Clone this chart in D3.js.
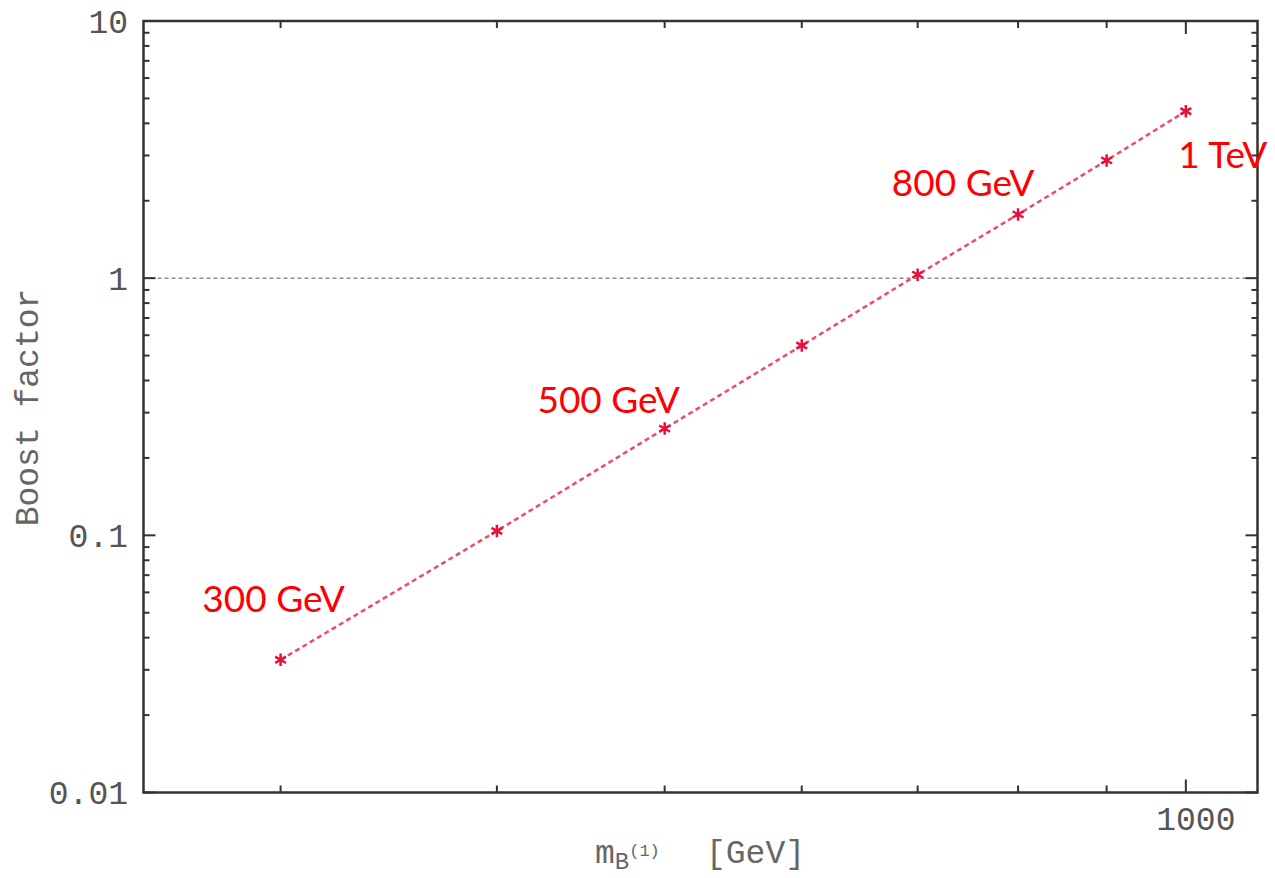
<!DOCTYPE html>
<html><head><meta charset="utf-8">
<script src="https://cdn.jsdelivr.net/npm/d3@7"></script>
<style>body{margin:0;background:#fff}</style>
</head><body>
<svg id="chart" width="1275" height="878"></svg>
<script>
const masses = [300, 400, 500, 600, 700, 800, 900, 1000];
const boost = [0.0328, 0.104, 0.26, 0.547, 1.032, 1.77, 2.87, 4.46];
const labelMasses = [300, 500, 800, 1000];
const labelTexts = ["300 GeV", "500 GeV", "800 GeV", "1 TeV"];
const yTickValues = [0.01, 0.1, 1, 10];
const yTickLabels = ["0.01", "0.1", "1", "10"];
const xTickValues = [1000];
const xTickLabels = ["1000"];
const referenceLevel = 1;

const svg = d3.select("#chart");
const L = 143.5, R = 1257.5, T = 21, B = 792.5;
const x = d3.scaleLog().domain([250, 1100]).range([L, R]);
const y = d3.scaleLog().domain([0.01, 10]).range([B, T]);
const frameColor = "#333";
const mono = "'Liberation Mono', 'DejaVu Sans Mono', monospace";

// minor ticks
const yMinor = [];
for (let d = -2; d < 1; d++) for (let k = 2; k <= 9; k++) yMinor.push(k * Math.pow(10, d));
const xMinor = [300, 400, 500, 600, 700, 800, 900];

const g = svg.append("g");
// reference line
g.append("line").attr("x1", L).attr("x2", R).attr("y1", y(referenceLevel)).attr("y2", y(referenceLevel))
  .attr("stroke", "#555").attr("stroke-width", 1).attr("stroke-dasharray", "4,3");

// ticks y
[[L, 1], [R, -1]].forEach(([px, dir]) => {
  g.selectAll(null).data(yMinor).enter().append("line")
    .attr("x1", px).attr("x2", px + dir * 6).attr("y1", d => y(d)).attr("y2", d => y(d))
    .attr("stroke", frameColor).attr("stroke-width", 2);
  g.selectAll(null).data(yTickValues).enter().append("line")
    .attr("x1", px).attr("x2", px + dir * 12).attr("y1", d => y(d)).attr("y2", d => y(d))
    .attr("stroke", frameColor).attr("stroke-width", 2);
});
[[B, -1], [T, 1]].forEach(([py, dir]) => {
  g.selectAll(null).data(xMinor).enter().append("line")
    .attr("x1", d => x(d)).attr("x2", d => x(d)).attr("y1", py).attr("y2", py + dir * 7)
    .attr("stroke", frameColor).attr("stroke-width", 2);
  g.selectAll(null).data(xTickValues).enter().append("line")
    .attr("x1", d => x(d)).attr("x2", d => x(d)).attr("y1", py).attr("y2", py + dir * 13)
    .attr("stroke", frameColor).attr("stroke-width", 2);
});

// frame
g.append("rect").attr("x", L).attr("y", T).attr("width", R - L).attr("height", B - T)
  .attr("fill", "none").attr("stroke", frameColor).attr("stroke-width", 2.5);

// tick labels
g.selectAll(null).data(yTickValues).enter().append("text")
  .attr("x", 128).attr("y", d => y(d)).attr("dy", "0.36em")
  .attr("text-anchor", "end").attr("font-family", mono).attr("font-size", 33).attr("fill", "#555")
  .text((d, i) => yTickLabels[i]);
g.selectAll(null).data(xTickValues).enter().append("text")
  .attr("x", d => x(d) + 10).attr("y", 830)
  .attr("text-anchor", "middle").attr("font-family", mono).attr("font-size", 33).attr("fill", "#555")
  .text((d, i) => xTickLabels[i]);

// axis titles
g.append("text").attr("transform", "translate(38," + ((282 + 533) / 2) + ") rotate(-90)")
  .attr("text-anchor", "middle").attr("font-family", mono).attr("font-size", 33).attr("fill", "#666")
  .text("Boost factor");
const xt = g.append("text").attr("x", 595).attr("y", 863).attr("font-family", mono).attr("font-size", 33).attr("fill", "#666");
xt.append("tspan").text("m");
xt.append("tspan").attr("dy", 6).attr("font-size", 24).text("B");
xt.append("tspan").attr("dy", -13).attr("font-size", 17).text("(1)");
xt.append("tspan").attr("x", 706).attr("y", 863).text("[GeV]");

// data line
const pts = masses.map((m, i) => [x(m), y(boost[i])]);
g.append("path").attr("d", d3.line()(pts)).attr("fill", "none")
  .attr("stroke", "#ef4a66").attr("stroke-width", 2.5).attr("stroke-dasharray", "5,3.5");
g.selectAll(null).data(pts).enter().append("path")
  .attr("transform", d => "translate(" + d[0] + "," + d[1] + ")")
  .attr("d", d3.symbol(d3.symbolAsterisk, 110))
  .attr("fill", "none").attr("stroke", "#e8103a").attr("stroke-width", 2.5);

// annotations
const offsets = {"300 GeV": [-7, -48], "500 GeV": [-56, -16], "800 GeV": [-55, -18], "1 TeV": [37, 57]};
labelMasses.forEach((m, i) => {
  const v = boost[masses.indexOf(m)];
  const o = offsets[labelTexts[i]];
  g.append("text").attr("x", x(m) + o[0]).attr("y", y(v) + o[1])
    .attr("text-anchor", "middle").attr("font-family", "Lato, 'Open Sans', sans-serif")
    .attr("font-size", 37).attr("fill", "#ff0000").text(labelTexts[i]);
});
</script>
</body></html>
